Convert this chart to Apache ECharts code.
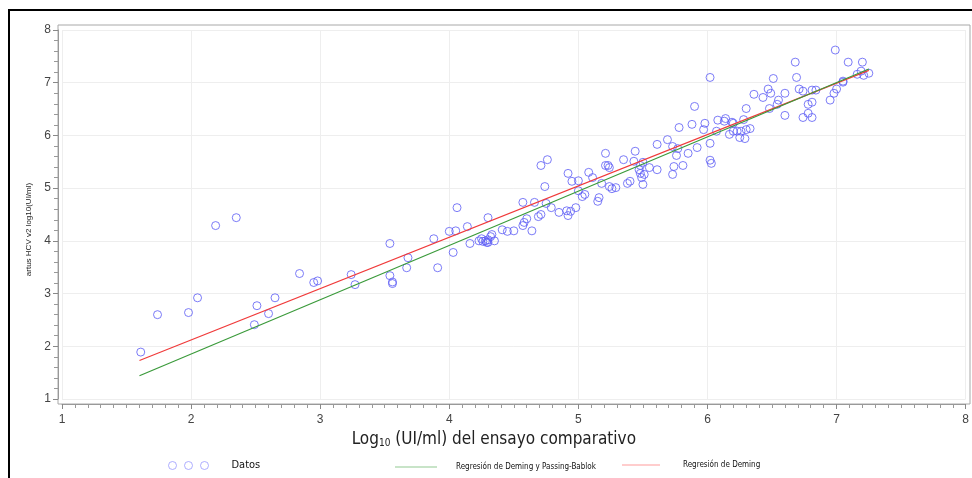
<!DOCTYPE html>
<html>
<head>
<meta charset="utf-8">
<title>Deming</title>
<script src="https://cdn.jsdelivr.net/npm/echarts@6/dist/echarts.min.js"></script>
<style>
html, body { margin: 0; padding: 0; background: #fff; }
#chart { width: 972px; height: 478px; }
</style>
</head>
<body>
<div id="chart"></div>
<script>
// log10 (UI/ml): ensayo comparativo (x) vs artus HCV v2 (y)
const datosX = [
  1.61, 1.74, 1.98, 2.05, 2.19, 2.35, 2.49, 2.51, 2.60, 2.65,
  2.84, 2.95, 2.98, 3.24, 3.27, 3.54, 3.54, 3.56, 3.56, 3.68,
  3.67, 3.88, 3.91, 4.00, 4.05, 4.06, 4.03, 4.14, 4.16, 4.30,
  4.23, 4.25, 4.26, 4.28, 4.29, 4.30, 4.30, 4.32, 4.33, 4.35,
  4.41, 4.45, 4.50, 4.57, 4.66, 4.57, 4.58, 4.60, 4.64, 4.69,
  4.71, 4.74, 4.71, 4.76, 4.75, 4.79, 4.85, 4.91, 4.92, 4.94,
  4.98, 4.92, 4.95, 5.00, 5.00, 5.03, 5.05, 5.08, 5.11, 5.15,
  5.16, 5.18, 5.21, 5.21, 5.23, 5.24, 5.24, 5.26, 5.29, 5.35,
  5.38, 5.40, 5.44, 5.43, 5.47, 5.48, 5.49, 5.51, 5.50, 5.48,
  5.50, 5.55, 5.61, 5.61, 5.69, 5.73, 5.74, 5.76, 5.77, 5.73,
  5.81, 5.85, 5.92, 6.02, 5.90, 5.78, 5.88, 5.98, 5.97, 6.02,
  6.02, 6.03, 6.08, 6.07, 6.14, 6.13, 6.19, 6.20, 6.20, 6.17,
  6.23, 6.26, 6.25, 6.29, 6.30, 6.33, 6.28, 6.30, 6.36, 6.43,
  6.47, 6.49, 6.51, 6.48, 6.54, 6.55, 6.60, 6.60, 6.68, 6.69,
  6.71, 6.74, 6.78, 6.78, 6.74, 6.81, 6.84, 6.81, 6.81, 6.95,
  6.98, 7.00, 7.05, 7.05, 6.99, 7.09, 7.20, 7.19, 7.16, 7.21,
  7.25
];
const datosY = [
  1.89, 2.60, 2.64, 2.92, 4.29, 4.44, 2.41, 2.77, 2.62, 2.92,
  3.38, 3.21, 3.24, 3.36, 3.17, 3.95, 3.34, 3.22, 3.19, 3.68,
  3.49, 4.04, 3.49, 4.18, 4.19, 4.63, 3.78, 4.27, 3.95, 4.44,
  4.00, 4.04, 3.99, 4.00, 3.97, 4.02, 3.97, 4.08, 4.12, 4.00,
  4.21, 4.18, 4.19, 4.73, 4.73, 4.29, 4.35, 4.42, 4.19, 4.46,
  4.50, 5.03, 5.43, 5.54, 4.71, 4.63, 4.54, 4.57, 4.48, 4.56,
  4.63, 5.28, 5.13, 5.14, 4.95, 4.84, 4.88, 5.30, 5.20, 4.75,
  4.82, 5.09, 5.66, 5.43, 5.43, 5.39, 5.03, 4.99, 5.01, 5.54,
  5.09, 5.13, 5.70, 5.51, 5.35, 5.28, 5.20, 5.26, 5.07, 5.43,
  5.49, 5.39, 5.35, 5.83, 5.92, 5.26, 5.41, 5.62, 5.75, 5.79,
  5.43, 5.66, 5.77, 7.10, 6.55, 6.15, 6.21, 6.23, 6.11, 5.85,
  5.53, 5.47, 6.29, 6.08, 6.32, 6.27, 6.25, 6.23, 6.08, 6.02,
  6.08, 6.08, 5.96, 5.94, 6.11, 6.13, 6.30, 6.51, 6.78, 6.72,
  6.88, 6.80, 7.08, 6.51, 6.59, 6.67, 6.80, 6.38, 7.39, 7.10,
  6.88, 6.84, 6.59, 6.42, 6.34, 6.86, 6.86, 6.63, 6.34, 6.67,
  6.80, 6.88, 7.01, 7.03, 7.62, 7.39, 7.39, 7.22, 7.16, 7.14,
  7.18
];
// rectas de regresion (extremos)
const rectaX = [1.6, 7.25];
const demingY = [1.73, 7.235];
const passingY = [1.44, 7.26];

const serieDatos = datosX.map((x, i) => [x, datosY[i]]);
const serieDeming = rectaX.map((x, i) => [x, demingY[i]]);
const seriePassing = rectaX.map((x, i) => [x, passingY[i]]);

const fuente = "'Liberation Sans', Arial, sans-serif";
const fuenteTitulo = "'Liberation Sans Narrow', 'DejaVu Sans Condensed', sans-serif";

let chart = echarts.init(document.getElementById('chart'));
let option = {
  animation: false,
  backgroundColor: '#fff',
  graphic: [{
    type: 'rect',
    shape: { x: 9, y: 10, width: 1000, height: 1000 },
    style: { fill: 'none', stroke: '#000', lineWidth: 2 },
    silent: true
  }],
  grid: [
    { left: 62, right: 6, top: 30, bottom: 79 },
    { left: 58, right: 2, top: 25, bottom: 74, show: true, borderColor: '#a8a8a8', borderWidth: 1, backgroundColor: 'transparent' }
  ],
  legend: [
    {
      left: 163, top: 455, itemWidth: 40, itemHeight: 8,
      textStyle: { fontFamily: fuenteTitulo, fontSize: 11, color: '#111', padding: [0, 0, 0, 18] },
      data: [{
        name: 'Datos',
        icon: 'path://M0,4a4,4 0 1,0 8,0a4,4 0 1,0 -8,0M16,4a4,4 0 1,0 8,0a4,4 0 1,0 -8,0M32,4a4,4 0 1,0 8,0a4,4 0 1,0 -8,0',
        itemStyle: { color: 'rgba(0,0,0,0)', borderColor: '#9a9aff', borderWidth: 1 }
      }]
    },
    {
      left: 390, top: 458, itemWidth: 42, itemHeight: 1.5,
      textStyle: { fontFamily: fuenteTitulo, fontSize: 8, color: '#111', padding: [0, 0, 0, 14] },
      data: [{ name: 'Regresión de Deming y Passing-Bablok', icon: 'rect', itemStyle: { color: '#b6dbb6' } }]
    },
    {
      left: 617, top: 456, itemWidth: 38, itemHeight: 1.5,
      textStyle: { fontFamily: fuenteTitulo, fontSize: 8, color: '#111', padding: [0, 0, 0, 18] },
      data: [{ name: 'Regresión de Deming', icon: 'rect', itemStyle: { color: '#ffbcbc' } }]
    }
  ],
  xAxis: [
    {
      type: 'value', gridIndex: 0, min: 1, max: 8, interval: 1, offset: 5,
      name: 'Log{s|10} (UI/ml) del ensayo comparativo',
      nameLocation: 'middle', nameGap: 27,
      nameTextStyle: {
        fontFamily: fuenteTitulo, fontSize: 17, color: '#222', padding: [0, 40, 0, 0],
        rich: { s: { fontFamily: fuenteTitulo, fontSize: 10, color: '#222', verticalAlign: 'bottom', padding: [7, 0, 0, 0] } }
      },
      axisLine: { show: true, lineStyle: { color: '#999' } },
      axisTick: { show: true, length: 5, lineStyle: { color: '#888' } },
      minorTick: { show: true, splitNumber: 10, length: 4, lineStyle: { color: '#999' } },
      axisLabel: { fontFamily: fuente, fontSize: 12, color: '#444', margin: 10 },
      splitLine: { show: true, lineStyle: { color: '#eeeeee' } }
    },
    { type: 'value', gridIndex: 1, show: false, min: 0, max: 1 }
  ],
  yAxis: [
    {
      type: 'value', gridIndex: 0, min: 1, max: 8, interval: 1, offset: 4,
      name: 'artus HCV v2 log10(UI/ml)',
      nameLocation: 'middle', nameGap: 25,
      nameTextStyle: { fontFamily: fuente, fontSize: 8, color: '#222', padding: [0, 30, 0, 0] },
      axisLine: { show: true, lineStyle: { color: '#999' } },
      axisTick: { show: true, length: 5, lineStyle: { color: '#888' } },
      minorTick: { show: true, splitNumber: 5, length: 4, lineStyle: { color: '#999' } },
      axisLabel: { fontFamily: fuente, fontSize: 12, color: '#444', margin: 7 },
      splitLine: { show: true, lineStyle: { color: '#eeeeee' } }
    },
    { type: 'value', gridIndex: 1, show: false, min: 0, max: 1 }
  ],
  series: [
    {
      name: 'Datos',
      type: 'scatter',
      xAxisIndex: 0, yAxisIndex: 0,
      symbol: 'circle',
      symbolSize: 8,
      itemStyle: { color: 'rgba(0,0,0,0)', borderColor: '#5b5bf5', borderWidth: 1 },
      data: serieDatos,
      z: 2
    },
    {
      name: 'Regresión de Deming',
      type: 'line',
      xAxisIndex: 0, yAxisIndex: 0,
      symbol: 'none',
      lineStyle: { color: '#f03a3a', width: 1.2 },
      data: serieDeming,
      z: 3
    },
    {
      name: 'Regresión de Deming y Passing-Bablok',
      type: 'line',
      xAxisIndex: 0, yAxisIndex: 0,
      symbol: 'none',
      lineStyle: { color: '#3a9a3a', width: 1.2 },
      data: seriePassing,
      z: 4
    }
  ]
};
chart.setOption(option);
</script>
</body>
</html>
